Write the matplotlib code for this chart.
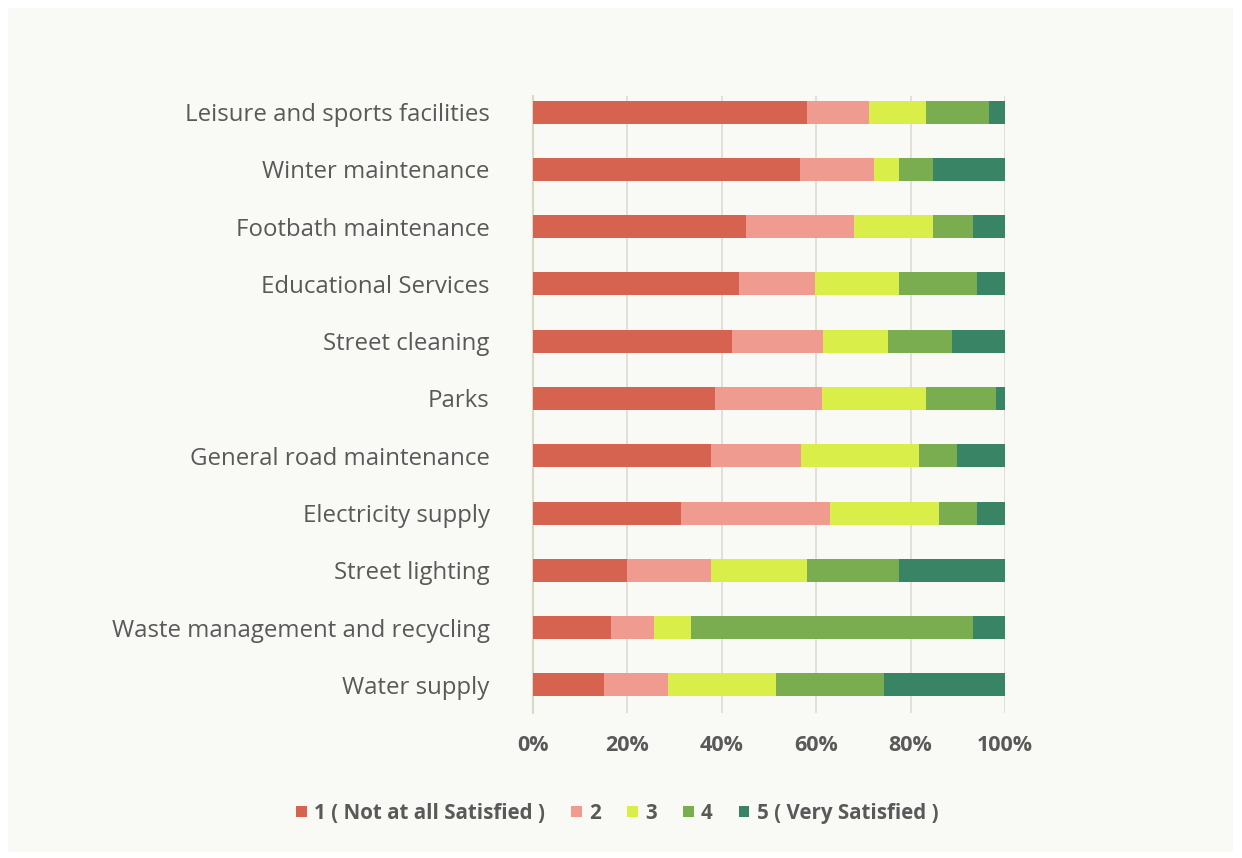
import numpy as np
import matplotlib.pyplot as plt
from matplotlib.patches import Patch, Rectangle

services = ['Leisure and sports facilities', 'Winter maintenance', 'Footbath maintenance',
            'Educational Services', 'Street cleaning', 'Parks', 'General road maintenance',
            'Electricity supply', 'Street lighting', 'Waste management and recycling',
            'Water supply']

# share of answers per satisfaction level (%)
level_1 = [58.1, 56.6, 45.2, 43.6, 42.1, 38.7, 37.7, 31.4, 20.0, 16.6, 15.1]
level_2 = [13.0, 15.7, 22.8, 16.2, 19.3, 22.6, 19.1, 31.5, 17.7, 9.1, 13.5]
level_3 = [12.2, 5.3, 16.8, 17.8, 13.9, 22.0, 24.9, 23.1, 20.4, 7.8, 22.9]
level_4 = [13.3, 7.2, 8.4, 16.5, 13.5, 14.8, 8.1, 8.1, 19.5, 59.7, 22.9]
level_5 = [3.4, 15.2, 6.8, 5.9, 11.2, 1.9, 10.2, 5.9, 22.4, 6.8, 25.6]

levels = ['1 ( Not at all Satisfied )', '2', '3', '4', '5 ( Very Satisfied )']
colors = ['#D6634F', '#F09B8F', '#D9EE48', '#79AD4F', '#3A8466']

text_col = '#595959'
bg = '#F9F9F5'

plt.rcParams['font.family'] = ['Open Sans', 'DejaVu Sans']

fig = plt.figure(figsize=(12.42, 8.58), dpi=100)
fig.patch.set_facecolor('white')
fig.patches.append(Rectangle((8 / 1242, 6 / 858), 1225 / 1242, 844 / 858,
                             transform=fig.transFigure, facecolor=bg,
                             edgecolor='none', zorder=-10))

ax = fig.add_axes([0.4289, 0.1690, 0.3803, 0.7191])
ax.set_facecolor(bg)

y = np.arange(len(services))
left = np.zeros(len(services))
for vals, name, c in zip([level_1, level_2, level_3, level_4, level_5], levels, colors):
    vals = np.array(vals)
    ax.barh(y, vals, left=left, height=0.40, color=c, label=name, zorder=3)
    left += vals

ax.set_xlim(0, 100)
ax.set_ylim(len(services) - 1 + 0.49, -0.28)
ax.set_xticks([0, 20, 40, 60, 80, 100])
ax.set_xticklabels(['0%', '20%', '40%', '60%', '80%', '100%'])
ax.set_yticks(y)
ax.set_yticklabels(services)

for lab in ax.get_xticklabels():
    lab.set_fontweight('bold')
ax.tick_params(axis='x', length=0, pad=16, labelsize=15.5, labelcolor=text_col)
ax.tick_params(axis='y', length=0, pad=31, labelsize=17.3, labelcolor=text_col)

ax.grid(axis='x', color='#DCDCD2', linewidth=1.2, zorder=0)
for side in ['top', 'right', 'bottom']:
    ax.spines[side].set_visible(False)
ax.spines['left'].set_color('#D9DCC4')
ax.spines['left'].set_linewidth(1.5)

handles = [Patch(facecolor=c, edgecolor='none') for c in colors]
fig.legend(handles, levels, loc='center', bbox_to_anchor=(0.497, 0.052), ncol=5,
           frameon=False, handlelength=0.5, handleheight=0.5, handletextpad=0.35,
           columnspacing=1.3, prop={'weight': 'bold', 'size': 14.8},
           labelcolor=text_col)

fig.savefig('out.png', dpi=100, facecolor=fig.get_facecolor())
